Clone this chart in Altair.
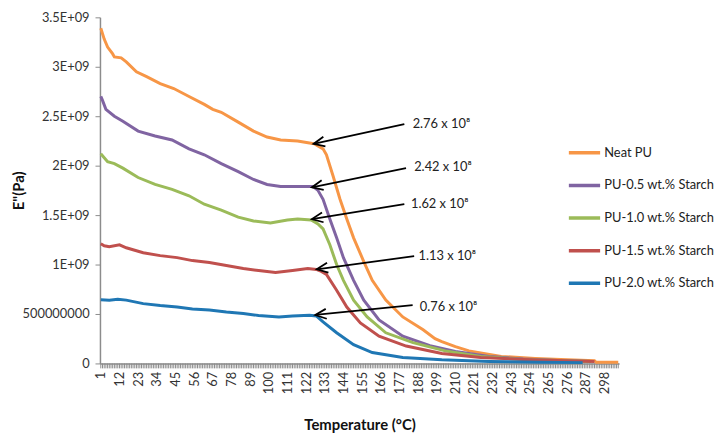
import altair as alt
import pandas as pd

# ---------------- data ----------------
series_names = ["Neat PU", "PU-0.5 wt.% Starch", "PU-1.0 wt.% Starch",
                "PU-1.5 wt.% Starch", "PU-2.0 wt.% Starch"]
series_colors = ["#F79646", "#8064A2", "#9BBB59", "#C0504D", "#1F77B4"]

# category index (Excel category axis) and E'' in units of 1e9 Pa
neat_x = [1, 3, 5, 8, 9, 13, 16, 22, 28, 36, 44, 53, 62, 67, 72, 82, 91, 99, 107, 117, 124, 127,
          132, 134, 138, 142, 146, 150, 156, 161, 169, 179, 191, 198, 202, 210, 218, 237, 257,
          276, 292, 293, 306]
neat_y = [3.39, 3.28, 3.20, 3.13, 3.10, 3.09, 3.05, 2.95, 2.90, 2.83, 2.78, 2.70, 2.62, 2.57,
          2.54, 2.44, 2.35, 2.29, 2.26, 2.25, 2.23, 2.22, 2.17, 2.11, 1.89, 1.66, 1.46, 1.27,
          1.03, 0.84, 0.64, 0.47, 0.34, 0.25, 0.22, 0.17, 0.127, 0.071, 0.05, 0.037, 0.028,
          0.012, 0.012]

pu05_x = [1, 2, 4, 9, 14, 23, 33, 43, 53, 62, 72, 82, 91, 99, 107, 117, 126, 129, 132, 136,
          140, 144, 150, 156, 165, 179, 195, 210, 230, 250, 270, 290]
pu05_y = [2.70, 2.66, 2.57, 2.50, 2.45, 2.35, 2.30, 2.26, 2.17, 2.11, 2.02, 1.94, 1.86, 1.81,
          1.79, 1.79, 1.79, 1.75, 1.66, 1.46, 1.27, 1.07, 0.84, 0.64, 0.44, 0.275, 0.18, 0.12,
          0.07, 0.045, 0.03, 0.02]

pu10_x = [1, 3, 5, 9, 14, 23, 33, 43, 53, 62, 72, 82, 91, 101, 111, 117, 125, 129, 132, 136,
          140, 144, 150, 158, 169, 185, 204, 225, 250, 270, 290]
pu10_y = [2.12, 2.08, 2.04, 2.02, 1.975, 1.88, 1.81, 1.76, 1.695, 1.61, 1.55, 1.48, 1.44, 1.42,
          1.45, 1.46, 1.45, 1.41, 1.36, 1.20, 1.00, 0.84, 0.64, 0.47, 0.31, 0.21, 0.127, 0.07,
          0.04, 0.03, 0.02]

pu15_x = [1, 3, 6, 12, 16, 26, 36, 46, 55, 65, 75, 85, 94, 104, 114, 123, 128, 131, 134, 140,
          146, 154, 165, 181, 202, 225, 250, 270, 292]
pu15_y = [1.21, 1.19, 1.18, 1.20, 1.17, 1.12, 1.09, 1.07, 1.04, 1.02, 0.99, 0.96, 0.94, 0.92,
          0.94, 0.96, 0.95, 0.93, 0.90, 0.74, 0.57, 0.41, 0.275, 0.176, 0.10, 0.06, 0.04, 0.03,
          0.02]

pu20_x = [1, 6, 11, 16, 26, 36, 46, 55, 65, 75, 85, 94, 106, 114, 124, 128, 132, 140, 150, 161,
          179, 202, 230, 260, 285]
pu20_y = [0.645, 0.64, 0.65, 0.64, 0.605, 0.585, 0.57, 0.55, 0.54, 0.52, 0.505, 0.485, 0.47,
          0.48, 0.487, 0.48, 0.42, 0.31, 0.19, 0.11, 0.06, 0.037, 0.02, 0.012, 0.008]

# axis ticks
y_tick_values = [0, 0.5e9, 1.0e9, 1.5e9, 2.0e9, 2.5e9, 3.0e9, 3.5e9]
y_tick_labels = ["0", "500000000", "1E+09", "1.5E+09", "2E+09", "2.5E+09", "3E+09", "3.5E+09"]
n_categories = 306
x_tick_labels = [1, 12, 23, 34, 45, 56, 67, 78, 89, 100, 111, 122, 133, 144, 155, 166, 177,
                 188, 199, 210, 221, 232, 243, 254, 265, 276, 287, 298]

# annotations (data coordinates: category index, E'' in 1e9 Pa)
ann_labels = ["2.76 x 10\u2078", "2.42 x 10\u2078", "1.62 x 10\u2078", "1.13 x 10\u2078",
              "0.76 x 10\u2078"]
ann_head_x = [126.4, 125.4, 125.4, 128.3, 127.4]
ann_head_y = [2.22, 1.78, 1.46, 0.952, 0.49]
ann_tail_x = [179.9, 180.9, 179.9, 185.7, 184.8]
ann_tail_y = [2.42, 1.975, 1.61, 1.084, 0.59]
ann_text_x = [184.8, 185.7, 183.8, 188.3, 189.0]
ann_text_y = [2.42, 1.99, 1.61, 1.084, 0.572]
ann_head_angle = [348, 348, 351, 352, 354]

# ---------------- build tables ----------------
rows = []
for name, xs, ys in zip(series_names,
                        [neat_x, pu05_x, pu10_x, pu15_x, pu20_x],
                        [neat_y, pu05_y, pu10_y, pu15_y, pu20_y]):
    for x, y in zip(xs, ys):
        rows.append({"series": name, "cat": x, "E": y * 1e9})
df = pd.DataFrame(rows)

cats = pd.DataFrame({"cat": list(range(1, n_categories + 1))})

ann = pd.DataFrame({
    "label": ann_labels,
    "hx": ann_head_x, "hy": [v * 1e9 for v in ann_head_y],
    "tx": ann_tail_x, "ty": [v * 1e9 for v in ann_tail_y],
    "lx": ann_text_x, "ly": [v * 1e9 for v in ann_text_y],
    "ang": ann_head_angle,
})

FONT = "Lato"
AXIS_GRAY = "#8C8C8C"
PLOT_W, PLOT_H = 525, 350

y_label_expr = " : ".join(
    f"datum.value == {v} ? '{l}'" for v, l in zip(y_tick_values, y_tick_labels)
) + " : ''"

x_scale = alt.Scale(domain=[0.5, n_categories + 0.5], nice=False, zero=False)
y_scale = alt.Scale(domain=[0, 3.5e9], nice=False)

x_axis = alt.Axis(
    title="Temperature (\u00b0C)", values=x_tick_labels, labelAngle=270,
    labelOverlap=False, labelFlush=False, labelFontSize=13, labelPadding=8,
    ticks=False, tickSize=0, grid=False, titleFontSize=15, titleFontWeight="bold",
    titleY=55, titleBaseline="top",
)
y_axis = alt.Axis(
    title='E"(Pa)', values=y_tick_values, labelExpr=y_label_expr, labelFontSize=13,
    labelPadding=6, tickSize=5, grid=False, titleFontSize=15, titleFontWeight="bold",
    titleX=-89, titleBaseline="top",
)

lines = alt.Chart(df).mark_line(strokeWidth=3).encode(
    x=alt.X("cat:Q", scale=x_scale, axis=x_axis),
    y=alt.Y("E:Q", scale=y_scale, axis=y_axis),
    color=alt.Color("series:N", scale=alt.Scale(domain=series_names, range=series_colors),
                    sort=series_names, legend=alt.Legend(title=None)),
    order=alt.Order("cat:Q"),
)

# dense category tick marks under the axis line (one per category)
cat_ticks = alt.Chart(cats).mark_rule(color=AXIS_GRAY, strokeWidth=1).encode(
    x=alt.X("cat:Q", scale=x_scale, axis=x_axis),
    y=alt.value(PLOT_H),
    y2=alt.value(PLOT_H + 5),
)

arrows = alt.Chart(ann).mark_rule(color="black", strokeWidth=1.8).encode(
    x=alt.X("hx:Q", scale=x_scale, axis=x_axis),
    y=alt.Y("hy:Q", scale=y_scale, axis=y_axis),
    x2="tx:Q", y2="ty:Q",
)
heads = alt.Chart(ann).mark_point(
    shape="M1,-0.45L0,0L1,0.45", filled=False, color="black", strokeWidth=1.8, size=500,
    opacity=1,
).encode(
    x=alt.X("hx:Q", scale=x_scale, axis=x_axis),
    y=alt.Y("hy:Q", scale=y_scale, axis=y_axis),
    angle=alt.Angle("ang:Q", scale=None),
)
texts = alt.Chart(ann).mark_text(
    align="left", baseline="middle", fontSize=13, font=FONT, color="#222222",
).encode(
    x=alt.X("lx:Q", scale=x_scale, axis=x_axis),
    y=alt.Y("ly:Q", scale=y_scale, axis=y_axis),
    text="label:N",
)

chart = alt.layer(cat_ticks, lines, arrows, heads, texts).properties(
    width=PLOT_W, height=PLOT_H,
    autosize="none",
    padding={"left": 93, "top": 7, "right": 98, "bottom": 76},
).configure_view(
    stroke=None,
).configure_axis(
    labelFont=FONT, titleFont=FONT, labelColor="#333333", titleColor="#111111",
    domainColor=AXIS_GRAY, tickColor=AXIS_GRAY, domainWidth=1.5,
).configure_legend(
    orient="none", legendX=472, legendY=119, symbolType="stroke", symbolSize=1000,
    symbolStrokeWidth=3.5, labelFontSize=13, labelFont=FONT, labelColor="#222222",
    rowPadding=8, labelOffset=2,
)

chart.save("out.html", embed_options={"renderer": "svg", "actions": False})
